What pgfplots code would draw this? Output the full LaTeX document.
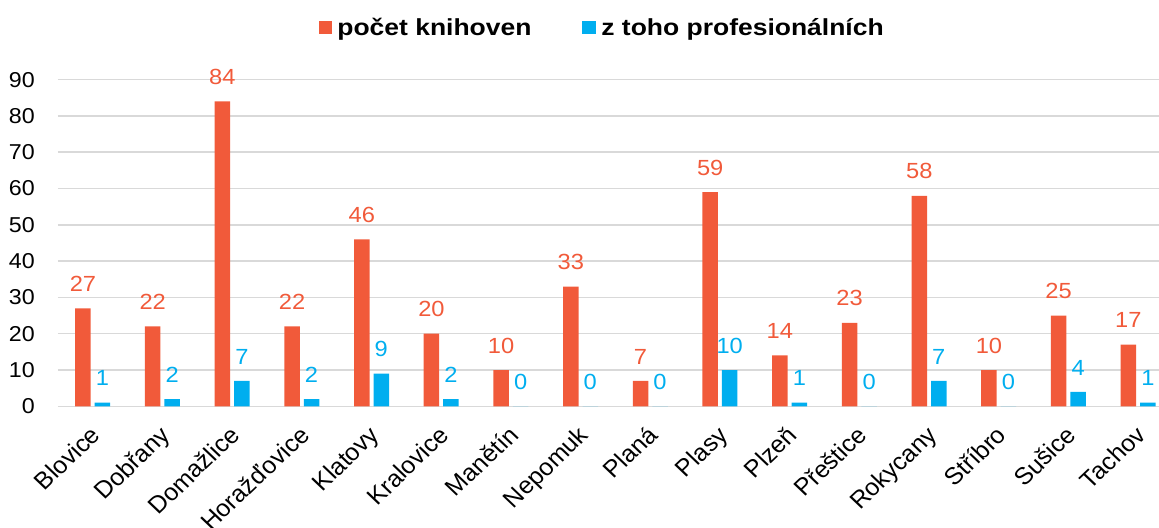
\documentclass[border=0pt]{standalone}
\usepackage{fontspec}
\setmainfont{Liberation Sans}
\newfontfamily\legfont[FakeStretch=1.14]{Liberation Sans}
\newfontfamily\numfont[FakeStretch=1.08]{Liberation Sans}
\usepackage{pgfplots}
\pgfplotsset{compat=1.18}
\definecolor{cOr}{HTML}{F15A3A}
\definecolor{cBl}{HTML}{00AEEF}
\definecolor{cGr}{HTML}{D9D9D9}
\begin{document}
\begin{tikzpicture}
\path[use as bounding box] (0,0) rectangle (1159bp,-528bp);
\begin{axis}[
  at={(57.9bp,-406.3bp)}, anchor=south west,
  scale only axis, width=1101.1bp, height=326.7bp,
  xmin=-0.5, xmax=15.3, ymin=0, ymax=90,
  clip=false,
  axis line style={draw=none},
  ybar, bar width=15.5bp,
  ytick={0,10,...,90},
  xtick={0,...,15},
  xticklabels={Blovice,Dobřany,Domažlice,Horažďovice,Klatovy,Kralovice,Manětín,Nepomuk,Planá,Plasy,Plzeň,Přeštice,Rokycany,Stříbro,Sušice,Tachov},
  major tick length=0pt,
  ymajorgrids, grid style={cGr, line width=1.5bp},
  yticklabel style={font=\numfont\fontsize{21.6}{25}\selectfont, inner sep=0pt, xshift=-23bp},
  /pgf/number format/assume math mode=true,
  xticklabel style={font=\fontsize{24}{28}\selectfont, text height=17.2bp, text depth=5bp,
    xshift=-3.7bp, yshift=-18bp, xscale=1.05, rotate=45, anchor=north east, inner sep=0pt},
  nodes near coords,
  every node near coord/.append style={font=\numfont\fontsize{22}{26}\selectfont, inner sep=0pt, yshift=16.5bp},
  legend image code/.code={\fill[#1] (0bp,-6.7bp) rectangle (13.4bp,6.7bp);},
  legend style={at={(0.2365,1.1589)}, anchor=west, draw=none, fill=none, inner sep=0pt,
    legend columns=2, nodes={inner sep=0pt, font=\legfont\bfseries\fontsize{23.3}{27}\selectfont},
    /tikz/every odd column/.append style={column sep=5.5bp},
    /tikz/every even column/.append style={column sep=51bp}},
]
\addplot[fill=cOr, draw=none, bar shift=-9.75bp, every node near coord/.append style={text=cOr}] coordinates {
(0,27) (1,22) (2,84) (3,22) (4,46) (5,20) (6,10) (7,33) (8,7) (9,59) (10,14) (11,23) (12,58) (13,10) (14,25) (15,17)};
\addplot[fill=cBl, draw=none, bar shift=9.75bp, every node near coord/.append style={text=cBl}] coordinates {
(0,1) (1,2) (2,7) (3,2) (4,9) (5,2) (6,0) (7,0) (8,0) (9,10) (10,1) (11,0) (12,7) (13,0) (14,4) (15,1)};
\legend{počet knihoven, z toho profesionálních}
\end{axis}
\end{tikzpicture}
\end{document}
